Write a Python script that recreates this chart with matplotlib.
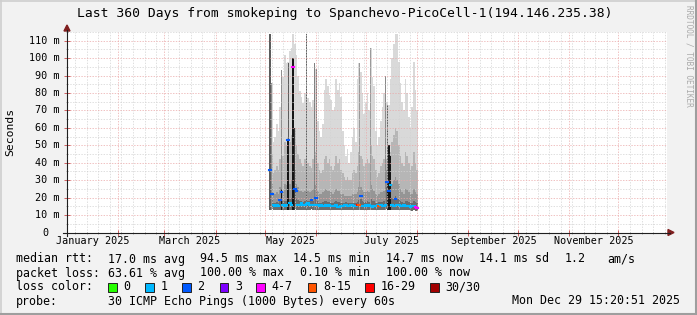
import matplotlib
matplotlib.use("Agg")
import matplotlib.pyplot as plt
from matplotlib.patches import Polygon, Rectangle
from matplotlib.lines import Line2D
import numpy as np

W, H = 697, 315
MONO = "DejaVu Sans Mono"

# day of year 2025 (0 = Jan 1), one smoke column per day
days = np.arange(123, 213)

# max ping of the column (light smoke)
smoke_top = [114, 86, 52, 55, 62, 58, 72, 93, 89, 102,
             97, 98, 104, 106, 114, 108, 102, 90, 81, 78,
             74, 80, 114, 77, 75, 72, 76, 97, 94, 64,
             58, 55, 62, 82, 88, 84, 79, 76, 70, 72,
             88, 82, 86, 78, 58, 50, 44, 48, 40, 46,
             55, 60, 52, 88, 97, 92, 80, 68, 74, 80,
             70, 106, 89, 84, 58, 50, 55, 64, 72, 80,
             90, 75, 73, 88, 100, 108, 114, 114, 98, 86,
             75, 70, 88, 80, 66, 60, 72, 98, 82, 70]
# upper quantile (medium smoke)
smoke_q3 = [60, 45, 34, 36, 38, 36, 42, 48, 44, 52,
            50, 55, 52, 56, 70, 60, 50, 45, 42, 40,
            38, 42, 55, 40, 38, 37, 42, 48, 46, 40,
            36, 34, 36, 42, 44, 40, 42, 38, 36, 38,
            44, 40, 42, 36, 34, 32, 30, 32, 30, 30,
            34, 36, 34, 38, 46, 44, 42, 38, 40, 42,
            40, 50, 44, 42, 36, 32, 34, 38, 40, 42,
            48, 42, 40, 46, 52, 56, 60, 58, 50, 44,
            40, 38, 46, 44, 40, 36, 38, 46, 40, 36]
smoke_q2 = [34, 28, 22, 22, 23, 22, 26, 28, 24, 28,
            27, 32, 28, 30, 45, 36, 28, 26, 24, 24,
            23, 24, 30, 24, 23, 24, 25, 27, 27, 24,
            22, 22, 23, 24, 25, 24, 24, 23, 22, 23,
            25, 24, 24, 22, 22, 21, 21, 21, 21, 21,
            22, 22, 22, 23, 26, 26, 25, 23, 23, 24,
            23, 27, 25, 24, 22, 21, 22, 23, 23, 24,
            30, 36, 30, 28, 28, 30, 32, 30, 28, 25,
            23, 22, 25, 25, 23, 22, 22, 25, 23, 22]
smoke_q1 = [24, 19, 17, 17, 17.5, 17, 19, 20, 18, 18,
            18, 22, 19, 20, 30, 24, 20, 18.5, 18, 18,
            17.5, 18, 20, 18, 18, 19, 18, 19, 19, 18,
            17, 17, 17.5, 18, 18, 17.5, 17.5, 17, 17, 17.5,
            18, 17.5, 17.5, 17, 17, 17, 17.5, 17, 17, 17,
            17, 17, 17, 17.5, 18.5, 19, 18, 17.5, 17.5, 18,
            17.5, 19, 18, 18, 17, 17, 17.5, 17.5, 17.5, 18,
            20, 26, 22, 22, 20, 19, 21, 19, 19, 18,
            17.5, 17, 18, 18, 17.5, 17, 17, 18, 17.5, 17]
smoke_bottom = [13.5, 13.2, 13, 13, 13, 12.8, 13, 13.2, 13, 13,
                13, 13.2, 13, 13, 13.5, 13.2, 13, 13, 13, 13,
                13, 12.8, 13, 13, 13, 13.2, 13, 13, 13, 13,
                12.8, 12.8, 13, 13, 12.8, 12.8, 13, 12.8, 12.8, 12.8,
                13, 12.8, 12.8, 12.8, 12.8, 12.8, 13, 12.8, 12.8, 12.8,
                12.8, 12.8, 12.8, 13, 13, 13, 12.8, 12.8, 12.8, 12.8,
                12.8, 12.8, 12.8, 12.8, 12.8, 12.8, 12.8, 13, 12.8, 12.8,
                13, 13.2, 13, 13, 12.8, 12.8, 13, 12.8, 12.8, 12.8,
                12.8, 12.8, 12.8, 12.8, 12.8, 12.6, 12.6, 12.8, 12.5, 12.5]
median_rtt = [36, 22, 16, 15, 15.5, 15, 18.5, 23, 16, 15,
              16, 53, 17, 16, 95, 25, 24, 16, 15.5, 17,
              16, 15.5, 16.5, 17, 16, 18.6, 16, 16, 20, 16,
              15, 15.5, 15, 15, 15.5, 15, 16, 15, 15, 15,
              15.5, 14.8, 14.8, 15, 15, 16, 16, 15, 15, 15.5,
              15.5, 15, 15, 16, 15.7, 21, 15, 15, 15.5, 15,
              15.5, 15, 14.8, 15, 15, 15.5, 15.2, 16, 15, 15,
              16, 29, 24, 27, 16, 15, 19, 15.5, 16, 15,
              15, 15.5, 15, 15.2, 15, 14.8, 15, 15, 14.5, 14]
loss_level = [2, 2, 1, 1, 1, 1, 2, 2, 1, 1,
              1, 2, 1, 1, 4, 2, 2, 1, 1, 1,
              1, 1, 1, 1, 1, 2, 1, 1, 2, 1,
              1, 1, 1, 1, 1, 1, 1, 1, 1, 1,
              1, 1, 1, 1, 1, 1, 1, 1, 1, 1,
              1, 1, 1, 6, 5, 2, 1, 1, 1, 1,
              1, 1, 1, 1, 1, 1, 5, 1, 1, 1,
              1, 2, 2, 1, 1, 1, 2, 1, 1, 1,
              1, 1, 1, 1, 1, 1, 1, 1, 4, 4]

# darker columns where many pings were high
spike_days = [123, 124, 130, 134, 138, 145, 150, 151, 177, 184, 193, 194]
spike_tops = [114, 86, 93, 97, 60, 114, 97, 94, 97, 106, 90, 73]
spike_shades = ['#5c5c5c', '#8c8c8c', '#909090', '#5c5c5c', '#3a3a3a', '#5c5c5c',
                '#808080', '#808080', '#9a9a9a', '#9a9a9a', '#8a8a8a', '#5a5a5a']
core_days = [130, 134, 137, 194, 195, 196]
core_tops = [25, 53, 100, 30, 50, 44]

loss_colors = ['#26ff00', '#00b8ff', '#0059ff', '#7e00ff', '#ff00ff',
               '#ff5500', '#ff0000', '#a10000']
loss_names = ['0', '1', '2', '3', '4-7', '8-15', '16-29', '30/30']

month_starts = [0, 31, 59, 90, 120, 151, 181, 212, 243, 273, 304, 334]
month_labels = ['January 2025', 'March 2025', 'May 2025', 'July 2025',
                'September 2025', 'November 2025']
y_ticks = [0, 10, 20, 30, 40, 50, 60, 70, 80, 90, 100, 110]


def fx(px):
    return px / W


def fy(py):
    return 1 - py / H


fig = plt.figure(figsize=(W / 100, H / 100), dpi=100, facecolor='#f2f2f2')
ax = fig.add_axes([fx(67), fy(232.5), 600 / W, 200.5 / H])
ax.set_facecolor('white')
x0 = 3.42
ax.set_xlim(x0, x0 + 360)
ax.set_ylim(0, 114.6)
for s in ax.spines.values():
    s.set_visible(False)

bot = np.array(smoke_bottom)
med = np.array(median_rtt)
ax.bar(days, np.array(smoke_top) - bot, bottom=bot, width=1.0, color='#d9d9d9', lw=0)
ax.bar(days, np.array(smoke_q3) - bot, bottom=bot, width=1.0, color='#b6b6b6', lw=0)
ax.bar(days, np.array(smoke_q2) - bot, bottom=bot, width=1.0, color='#959595', lw=0)
ax.bar(days, np.array(smoke_q1) - bot, bottom=bot, width=1.0, color='#6c6c6c', lw=0)
ax.bar(spike_days, np.array(spike_tops) - 13, bottom=13, width=0.7, color=spike_shades, lw=0)
ax.bar(core_days, np.array(core_tops) - 13, bottom=13, width=0.9, color='#151515', lw=0)

# median line coloured by loss
cols = [loss_colors[k] for k in loss_level]
ax.hlines(med, days - 0.5, days + 0.5, colors=cols, lw=1.5, zorder=4, capstyle='projecting')

# grid
ax.set_xticks(month_starts)
ax.set_xticks(np.arange(5, 364, 7), minor=True)
ax.set_yticks(y_ticks)
ax.set_yticks(np.arange(5, 116, 10), minor=True)
ax.set_axisbelow(False)
ax.grid(True, which='minor', color='#d2d2d2', lw=0.5, linestyle=(0, (2, 2)))
ax.grid(True, which='major', color='#eaa8a8', lw=0.5, linestyle=(0, (2, 2)))
ax.tick_params(which='both', direction='inout', labelbottom=False, labelleft=False,
               top=False, right=False)
ax.tick_params(which='major', length=4, width=0.7, color='#d06060')
ax.tick_params(which='minor', length=2, width=0.7, color='#a8a8a8')

# tick labels
for i, lab in enumerate(month_labels):
    ax.text(month_starts[2 * i] + 15.3, -0.043, lab, transform=ax.get_xaxis_transform(),
            ha='center', va='center', fontsize=7.3, family=MONO)
for v in y_ticks:
    lab = '%d m' % v if v else '0'
    xpos = -0.0125 if v else -0.031
    ax.text(xpos, v, lab, transform=ax.get_yaxis_transform(), ha='right', va='center',
            fontsize=7.3, family=MONO)

# axes and arrows
fig.add_artist(Line2D([fx(63), fx(670)], [fy(232.5)] * 2, color='#1f1f1f', lw=0.8))
fig.add_artist(Line2D([fx(67)] * 2, [fy(236), fy(30)], color='#1f1f1f', lw=0.8))
fig.add_artist(Polygon([[fx(64), fy(31)], [fx(70), fy(31)], [fx(67), fy(25)]],
                       transform=fig.transFigure, color='#801f1f'))
fig.add_artist(Polygon([[fx(668), fy(229.5)], [fx(668), fy(235.5)], [fx(674), fy(232.5)]],
                       transform=fig.transFigure, color='#801f1f'))

# frame shading
fig.add_artist(Line2D([0, 1], [fy(0.5)] * 2, color='#cfcfcf', lw=1.2))
fig.add_artist(Line2D([fx(0.5)] * 2, [0, 1], color='#cfcfcf', lw=1.2))
fig.add_artist(Line2D([0, 1], [fy(314)] * 2, color='#9e9e9e', lw=1.5))
fig.add_artist(Line2D([fx(696)] * 2, [0, 1], color='#9e9e9e', lw=1.5))

fig.text(fx(345), fy(13), 'Last 360 Days from smokeping to Spanchevo-PicoCell-1(194.146.235.38)',
         ha='center', va='center', fontsize=9.4, family=MONO)
fig.text(fx(10), fy(132), 'Seconds', rotation=90, ha='center', va='center',
         fontsize=8.2, family=MONO)
fig.text(fx(689), fy(5), 'RRDTOOL / TOBI OETIKER', rotation=270, ha='center', va='top',
         fontsize=5.6, family=MONO, color='#aaaaaa')

# legend
fs = 8.4
rows = [
    (259, [(16, 'median rtt:'), (107.6, '17.0 ms avg'), (200, '94.5 ms max'),
           (293, '14.5 ms min'), (386, '14.7 ms now'), (479, '14.1 ms sd'),
           (565, '1.2'), (607.6, 'am/s')]),
    (273, [(16, 'packet loss:'), (107.6, '63.61 % avg'), (200, '100.00 % max'),
           (300, '0.10 % min'), (386, '100.00 % now')]),
    (287, [(16, 'loss color:')]),
    (301, [(16, 'probe:'), (107.6, '30 ICMP Echo Pings (1000 Bytes) every 60s')]),
]
for y, parts in rows:
    for x, t in parts:
        fig.text(fx(x), fy(y), t, ha='left', va='center', fontsize=fs, family=MONO)
fig.text(fx(680), fy(301), 'Mon Dec 29 15:20:51 2025', ha='right', va='center',
         fontsize=fs, family=MONO)

box_x = [108, 145, 182, 219.6, 256, 307.6, 365, 430]
for bx, c, name in zip(box_x, loss_colors, loss_names):
    fig.add_artist(Rectangle((fx(bx), fy(291.5)), 8.5 / W, 8.5 / H, transform=fig.transFigure,
                             facecolor=c, edgecolor='#222222', lw=0.7))
    fig.text(fx(bx + 15.5), fy(287), name, ha='left', va='center', fontsize=fs, family=MONO)

fig.savefig('out.png', dpi=100, facecolor=fig.get_facecolor())
